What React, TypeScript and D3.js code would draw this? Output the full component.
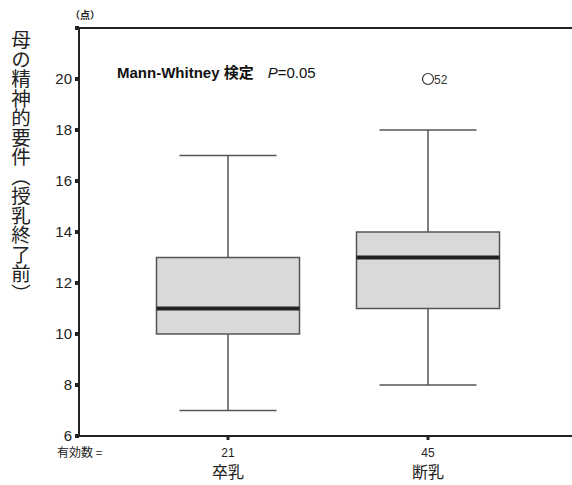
import * as d3 from "d3";
import { useEffect, useRef } from "react";

const categories = ["卒乳", "断乳"];
const counts = [21, 45];
const whiskerLow = [7, 8];
const q1 = [10, 11];
const median = [11, 13];
const q3 = [13, 14];
const whiskerHigh = [17, 18];
const outlierCats = ["断乳"];
const outlierValues = [20];
const outlierIds = ["52"];
const yTicks = [6, 8, 10, 12, 14, 16, 18, 20];

const W = 572;
const H = 485;
const FONT = "'Liberation Sans', Arial, sans-serif";
const JP = "'Noto Sans CJK JP', sans-serif";

export default function App() {
  const svgRef = useRef<SVGSVGElement>(null);

  useEffect(() => {
    if (!svgRef.current) return;
    const svg = d3.select(svgRef.current);
    svg.selectAll("*").remove();

    const left = 79;
    const top = 28;
    const bottom = 436;

    const x = d3.scalePoint<string>().domain(categories).range([left, 577]).padding(0.745);
    const y = d3.scaleLinear().domain([6, 22]).range([bottom, top]);
    const step = x.step();
    const boxW = step * 0.715;
    const capW = step * 0.485;

    // boxes
    const rows = categories.map((c, i) => ({
      c, lo: whiskerLow[i], q1: q1[i], med: median[i], q3: q3[i], hi: whiskerHigh[i],
    }));
    const g = svg.append("g");
    rows.forEach((d) => {
      const cx = x(d.c) ?? 0;
      const stroke = "#555";
      g.append("line").attr("x1", cx).attr("x2", cx).attr("y1", y(d.hi)).attr("y2", y(d.q3))
        .attr("stroke", stroke).attr("stroke-width", 1.5);
      g.append("line").attr("x1", cx).attr("x2", cx).attr("y1", y(d.q1)).attr("y2", y(d.lo))
        .attr("stroke", stroke).attr("stroke-width", 1.5);
      g.append("line").attr("x1", cx - capW / 2).attr("x2", cx + capW / 2).attr("y1", y(d.hi)).attr("y2", y(d.hi))
        .attr("stroke", stroke).attr("stroke-width", 1.5);
      g.append("line").attr("x1", cx - capW / 2).attr("x2", cx + capW / 2).attr("y1", y(d.lo)).attr("y2", y(d.lo))
        .attr("stroke", stroke).attr("stroke-width", 1.5);
      g.append("rect").attr("x", cx - boxW / 2).attr("y", y(d.q3)).attr("width", boxW)
        .attr("height", y(d.q1) - y(d.q3)).attr("fill", "#d8d9db").attr("stroke", stroke).attr("stroke-width", 1.5);
      g.append("line").attr("x1", cx - boxW / 2).attr("x2", cx + boxW / 2).attr("y1", y(d.med)).attr("y2", y(d.med))
        .attr("stroke", "#222").attr("stroke-width", 4);
    });

    // outliers
    outlierValues.forEach((v, i) => {
      const cx = x(outlierCats[i]) ?? 0;
      g.append("circle").attr("cx", cx).attr("cy", y(v)).attr("r", 5.5)
        .attr("fill", "none").attr("stroke", "#333").attr("stroke-width", 1.2);
      g.append("text").attr("x", cx + 6).attr("y", y(v) + 5).text(outlierIds[i])
        .attr("font-family", FONT).attr("font-size", 12).attr("fill", "#333");
    });

    // frame
    svg.append("line").attr("x1", left).attr("x2", W).attr("y1", top).attr("y2", top)
      .attr("stroke", "#222").attr("stroke-width", 2);
    svg.append("line").attr("x1", left).attr("x2", W).attr("y1", bottom).attr("y2", bottom)
      .attr("stroke", "#222").attr("stroke-width", 2);
    svg.append("line").attr("x1", left).attr("x2", left).attr("y1", top).attr("y2", bottom)
      .attr("stroke", "#222").attr("stroke-width", 2);

    // y ticks
    [...yTicks, 22].forEach((t) => {
      svg.append("rect").attr("x", left - 4).attr("y", y(t) - 2).attr("width", 4).attr("height", 4).attr("fill", "#222");
    });
    yTicks.forEach((t) => {
      svg.append("text").attr("x", left - 7).attr("y", y(t) + 5).attr("text-anchor", "end")
        .attr("font-family", FONT).attr("font-size", 15).attr("fill", "#222").text(t);
    });

    // x ticks and labels
    categories.forEach((c, i) => {
      const cx = x(c) ?? 0;
      svg.append("rect").attr("x", cx - 1.5).attr("y", bottom + 1).attr("width", 3).attr("height", 3).attr("fill", "#222");
      svg.append("text").attr("x", cx).attr("y", 457).attr("text-anchor", "middle")
        .attr("font-family", FONT).attr("font-size", 12).attr("fill", "#222").text(counts[i]);
      svg.append("text").attr("x", cx).attr("y", 478).attr("text-anchor", "middle")
        .attr("font-family", JP).attr("font-size", 16).attr("fill", "#222").text(c);
    });
    svg.append("text").attr("x", 57).attr("y", 457).attr("font-family", JP).attr("font-size", 12)
      .attr("fill", "#222").text("有効数 =");

    // unit
    svg.append("text").attr("x", 85).attr("y", 19).attr("text-anchor", "middle").attr("font-family", JP)
      .attr("font-size", 10).attr("font-weight", "bold").attr("fill", "#222").text("（点）");

    // y axis title
    svg.append("text").attr("x", 21).attr("y", 30).attr("font-family", JP).attr("font-size", 19.5)
      .attr("fill", "#222").style("writing-mode", "vertical-rl")
      .text("母の精神的要件（授乳終了前）");

    // annotation
    const ann = svg.append("text").attr("x", 117).attr("y", 78).attr("font-family", FONT).attr("font-size", 15).attr("fill", "#111");
    ann.append("tspan").attr("font-weight", "bold").text("Mann-Whitney ");
    ann.append("tspan").attr("font-weight", "bold").attr("font-family", JP).text("検定");
    ann.append("tspan").attr("dx", 14).attr("font-style", "italic").text("P");
    ann.append("tspan").text("=0.05");
  }, []);

  return (
    <svg
      ref={svgRef}
      width={W}
      height={H}
      viewBox={`0 0 ${W} ${H}`}
      style={{ position: "fixed", left: 0, top: 0, background: "#fff" }}
    />
  );
}
